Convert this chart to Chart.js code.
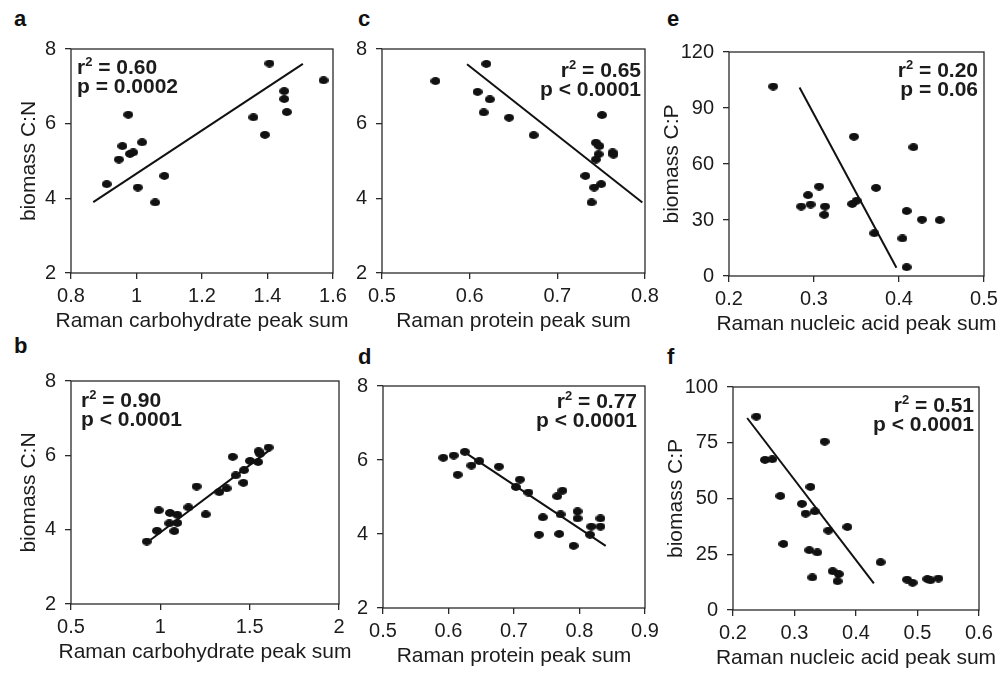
<!DOCTYPE html>
<html>
<head>
<meta charset="utf-8">
<script src="https://cdn.jsdelivr.net/npm/chart.js@4.4.1/dist/chart.umd.min.js"></script>
<style>
  body { margin: 0; background: #fff; width: 1001px; height: 673px; position: relative; overflow: hidden; }
  .panel { position: absolute; }
  .tag { position: absolute; font: bold 22px 'Liberation Sans', Arial, sans-serif; line-height: 22px; color: #111; }
</style>
</head>
<body>
<div class="tag" style="left:14px;top:8px">a</div>
<div class="tag" style="left:358px;top:8px">c</div>
<div class="tag" style="left:667px;top:8px">e</div>
<div class="tag" style="left:14px;top:335px">b</div>
<div class="tag" style="left:358px;top:346px">d</div>
<div class="tag" style="left:667px;top:346px">f</div>
<script>
// a: C:N vs carbohydrate
const aX = [1.406, 1.571, 1.451, 1.451, 1.459, 1.357, 1.392, 0.975, 0.957, 1.017, 0.980, 0.990, 0.946, 0.909, 1.085, 1.004, 1.057]
const aY = [7.61, 7.16, 6.87, 6.66, 6.31, 6.17, 5.70, 6.24, 5.40, 5.50, 5.19, 5.23, 5.04, 4.38, 4.60, 4.29, 3.89]
const aFitX = [0.868, 1.508]
const aFitY = [3.90, 7.60]

// c: C:N vs protein
const cX = [0.619, 0.561, 0.609, 0.623, 0.616, 0.645, 0.673, 0.751, 0.744, 0.748, 0.763, 0.764, 0.747, 0.744, 0.732, 0.750, 0.742, 0.739]
const cY = [7.60, 7.14, 6.85, 6.65, 6.30, 6.16, 5.69, 6.23, 5.49, 5.40, 5.23, 5.17, 5.18, 5.04, 4.60, 4.38, 4.29, 3.89]
const cFitX = [0.597, 0.797]
const cFitY = [7.59, 3.89]

// e: C:P vs nucleic acid
const eX = [0.252, 0.347, 0.417, 0.306, 0.373, 0.293, 0.285, 0.296, 0.313, 0.312, 0.345, 0.350, 0.409, 0.427, 0.448, 0.371, 0.404, 0.409]
const eY = [101.5, 74.6, 69.0, 47.9, 47.2, 43.3, 37.2, 38.3, 37.2, 32.8, 38.6, 40.3, 34.8, 30.2, 29.9, 22.9, 20.1, 4.7]
const eFitX = [0.283, 0.397]
const eFitY = [101, 4.4]

// b
const bX = [1.606, 1.550, 1.558, 1.405, 1.502, 1.547, 1.468, 1.422, 1.465, 1.203, 1.371, 1.330, 1.157, 0.991, 1.054, 1.095, 1.254, 1.050, 1.095, 0.981, 1.078, 0.924]
const bY = [6.21, 6.11, 6.04, 5.96, 5.85, 5.82, 5.60, 5.46, 5.26, 5.16, 5.11, 5.01, 4.60, 4.52, 4.45, 4.40, 4.41, 4.17, 4.18, 3.97, 3.96, 3.68]
const bFitX = [0.946, 1.617]
const bFitY = [3.73, 6.16]

// d
const dX = [0.592, 0.608, 0.625, 0.647, 0.635, 0.614, 0.677, 0.709, 0.703, 0.722, 0.774, 0.766, 0.771, 0.744, 0.797, 0.797, 0.832, 0.818, 0.832, 0.816, 0.738, 0.769, 0.791]
const dY = [6.06, 6.12, 6.22, 5.97, 5.85, 5.60, 5.82, 5.47, 5.27, 5.12, 5.17, 5.02, 4.53, 4.45, 4.61, 4.42, 4.42, 4.20, 4.20, 3.98, 3.98, 4.00, 3.68]
const dFitX = [0.629, 0.840]
const dFitY = [6.16, 3.68]

// f
const fX = [0.238, 0.349, 0.252, 0.264, 0.326, 0.277, 0.312, 0.318, 0.333, 0.355, 0.386, 0.282, 0.324, 0.337, 0.440, 0.362, 0.372, 0.370, 0.329, 0.483, 0.492, 0.516, 0.521, 0.534]
const fY = [86.7, 75.5, 67.3, 67.6, 55.2, 51.1, 47.6, 43.2, 44.2, 35.6, 37.2, 29.6, 26.8, 25.8, 21.4, 17.4, 16.1, 12.9, 14.6, 13.6, 12.2, 13.9, 13.3, 14.1]
const fFitX = [0.223, 0.429]
const fFitY = [86.1, 11.9]

const FONT = "'Liberation Sans', Arial, Helvetica, sans-serif"
const INK = '#1c1c1c'

// slightly flattened dot, like the print
const dot = document.createElement('canvas')
dot.width = 10
dot.height = 8
{
  const g = dot.getContext('2d')
  g.fillStyle = '#111'
  g.beginPath()
  g.ellipse(5, 4, 5, 3.9, 0, 0, Math.PI * 2)
  g.fill()
}

const pts = (xs, ys) => xs.map((x, i) => ({ x, y: ys[i] }))

// box round the plot, the r2 / p text, and the x title
// (x title drawn here so it can run wider than the axis without being squeezed)
const framePlugin = {
  id: 'frameStats',
  afterDraw(chart, args, opts) {
    const { ctx, chartArea: ca } = chart
    ctx.save()
    ctx.strokeStyle = '#2a2a2a'
    ctx.lineWidth = 1.3
    ctx.strokeRect(ca.left, ca.top, ca.right - ca.left, ca.bottom - ca.top)

    ctx.fillStyle = INK
    ctx.font = '21px ' + FONT
    ctx.textAlign = 'center'
    ctx.textBaseline = 'middle'
    ctx.fillText(opts.xTitle, (ca.left + ca.right) / 2, ca.bottom + 48)

    const big = 'bold 21px ' + FONT
    const small = 'bold 13px ' + FONT
    ctx.textAlign = 'left'
    ctx.textBaseline = 'alphabetic'
    ctx.font = big
    const wr = ctx.measureText('r').width
    const wEq = ctx.measureText(' = ' + opts.r2).width
    const wp = ctx.measureText(opts.p).width
    ctx.font = small
    const w2 = ctx.measureText('2').width
    const w1 = wr + w2 + wEq

    const y1 = ca.top + opts.base
    const y2 = y1 + 19
    let x1, x2
    if (opts.align === 'left') {
      x1 = ca.left + opts.dx
      x2 = x1
    } else {
      x1 = ca.right + opts.dx - w1
      x2 = ca.right + opts.dx - wp
    }
    ctx.font = big
    ctx.fillText('r', x1, y1)
    ctx.font = small
    ctx.fillText('2', x1 + wr, y1 - 8)
    ctx.font = big
    ctx.fillText(' = ' + opts.r2, x1 + wr + w2, y1)
    ctx.fillText(opts.p, x2, y2)
    ctx.restore()
  },
}

function makePanel(p) {
  const padTop = 16
  const padRight = 24
  const [x0, y0, x1, y1] = p.box
  const wrap = document.createElement('div')
  wrap.className = 'panel'
  wrap.style.left = (x0 - p.yW) + 'px'
  wrap.style.top = (y0 - padTop) + 'px'
  const canvas = document.createElement('canvas')
  canvas.width = x1 - x0 + p.yW + padRight
  canvas.height = y1 - y0 + padTop + p.xH
  wrap.appendChild(canvas)
  document.body.appendChild(wrap)

  const fmt = (v) => String(+v.toFixed(2))
  const axisCommon = {
    type: 'linear',
    border: { display: false },
    grid: { drawOnChartArea: false, tickLength: 6, color: '#2a2a2a', lineWidth: 1.3 },
  }

  new Chart(canvas, {
    type: 'scatter',
    data: {
      datasets: [
        {
          data: pts(p.xs, p.ys),
          pointStyle: dot,
          pointRadius: 5,
          backgroundColor: '#111',
          borderWidth: 0,
        },
        {
          data: pts(p.fitX, p.fitY),
          showLine: true,
          borderColor: '#111',
          borderWidth: 2,
          pointRadius: 0,
        },
      ],
    },
    options: {
      responsive: false,
      animation: false,
      events: [],
      layout: { padding: { top: padTop, right: padRight, left: 0, bottom: 0 } },
      plugins: {
        legend: { display: false },
        tooltip: { enabled: false },
        frameStats: { ...p.stats, xTitle: p.xTitle },
      },
      scales: {
        x: {
          ...axisCommon,
          min: p.xMin,
          max: p.xMax,
          ticks: {
            stepSize: p.xStep,
            autoSkip: false,
            maxRotation: 0,
            padding: 5,
            color: INK,
            font: { size: 20, family: FONT },
            callback: fmt,
          },
          afterFit: (s) => { s.height = p.xH },
        },
        y: {
          ...axisCommon,
          min: p.yMin,
          max: p.yMax,
          ticks: {
            stepSize: p.yStep,
            autoSkip: false,
            padding: 9,
            color: INK,
            font: { size: 20, family: FONT },
            callback: fmt,
          },
          title: {
            display: !!p.yTitle,
            text: p.yTitle || '',
            color: INK,
            padding: 0,
            font: { size: 21, family: FONT },
          },
          afterFit: (s) => { s.width = p.yW },
        },
      },
    },
    plugins: [framePlugin],
  })
}

makePanel({
  box: [71, 44, 333, 273], yW: 54, xH: 62,
  xs: aX, ys: aY, fitX: aFitX, fitY: aFitY,
  xMin: 0.8, xMax: 1.6, xStep: 0.2, yMin: 2, yMax: 8, yStep: 2,
  xTitle: 'Raman carbohydrate peak sum', yTitle: 'biomass C:N',
  stats: { r2: '0.60', p: 'p = 0.0002', align: 'left', dx: 6, base: 25 },
})
makePanel({
  box: [382, 44, 645, 273], yW: 40, xH: 62,
  xs: cX, ys: cY, fitX: cFitX, fitY: cFitY,
  xMin: 0.5, xMax: 0.8, xStep: 0.1, yMin: 2, yMax: 8, yStep: 2,
  xTitle: 'Raman protein peak sum',
  stats: { r2: '0.65', p: 'p < 0.0001', align: 'right', dx: -4, base: 28 },
})
makePanel({
  box: [729, 47, 984, 276], yW: 69, xH: 62,
  xs: eX, ys: eY, fitX: eFitX, fitY: eFitY,
  xMin: 0.2, xMax: 0.5, xStep: 0.1, yMin: 0, yMax: 120, yStep: 30,
  xTitle: 'Raman nucleic acid peak sum', yTitle: 'biomass C:P',
  stats: { r2: '0.20', p: 'p = 0.06', align: 'right', dx: -6, base: 25 },
})
makePanel({
  box: [71, 376, 339, 604], yW: 54, xH: 62,
  xs: bX, ys: bY, fitX: bFitX, fitY: bFitY,
  xMin: 0.5, xMax: 2, xStep: 0.5, yMin: 2, yMax: 8, yStep: 2,
  xTitle: 'Raman carbohydrate peak sum', yTitle: 'biomass C:N',
  stats: { r2: '0.90', p: 'p < 0.0001', align: 'left', dx: 10, base: 26 },
})
makePanel({
  box: [383, 381, 645, 608], yW: 40, xH: 62,
  xs: dX, ys: dY, fitX: dFitX, fitY: dFitY,
  xMin: 0.5, xMax: 0.9, xStep: 0.1, yMin: 2, yMax: 8, yStep: 2,
  xTitle: 'Raman protein peak sum',
  stats: { r2: '0.77', p: 'p < 0.0001', align: 'right', dx: -8, base: 22 },
})
makePanel({
  box: [733, 382, 979, 610], yW: 69, xH: 62,
  xs: fX, ys: fY, fitX: fFitX, fitY: fFitY,
  xMin: 0.2, xMax: 0.6, xStep: 0.1, yMin: 0, yMax: 100, yStep: 25,
  xTitle: 'Raman nucleic acid peak sum', yTitle: 'biomass C:P',
  stats: { r2: '0.51', p: 'p < 0.0001', align: 'right', dx: -5, base: 25 },
})
</script>
</body>
</html>
